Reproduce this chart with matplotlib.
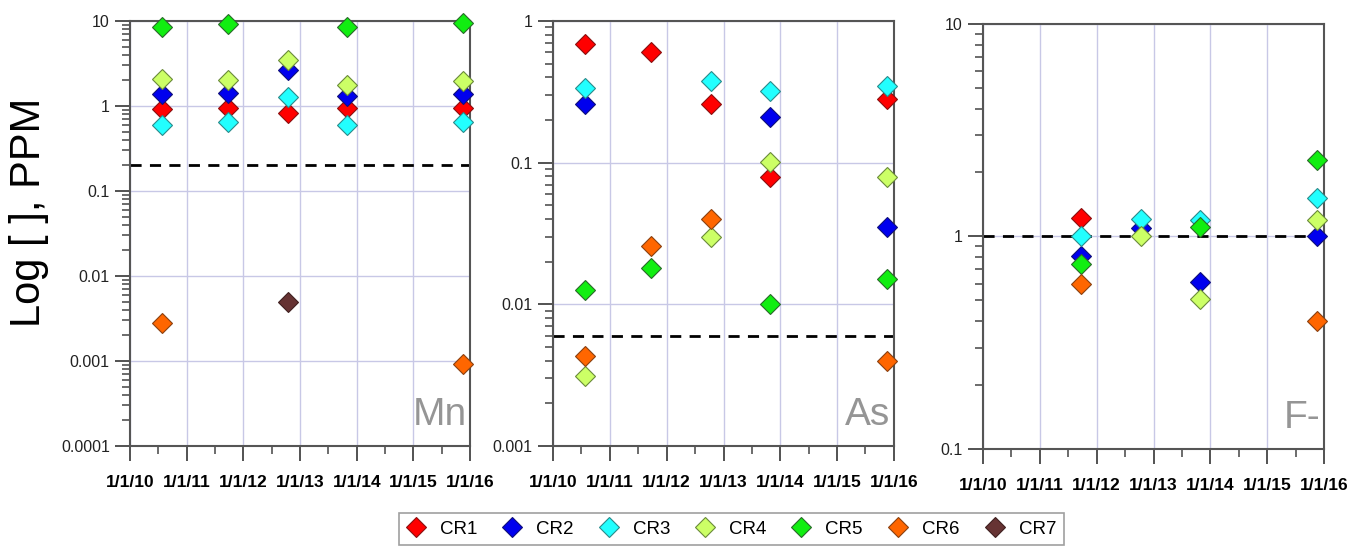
import numpy as np
import matplotlib
matplotlib.use("Agg")
import matplotlib.pyplot as plt
import matplotlib.dates as mdates
from matplotlib.ticker import LogLocator, FixedLocator, NullFormatter
from datetime import datetime

plt.rcParams['font.family'] = ['Liberation Sans', 'DejaVu Sans']

# sampling dates (shared by all panels)
dates = [datetime(2010, 7, 24), datetime(2011, 9, 25), datetime(2012, 10, 15),
         datetime(2013, 10, 29), datetime(2015, 11, 15)]
years = [datetime(y, 1, 1) for y in range(2010, 2017)]
year_labels = ['1/1/10', '1/1/11', '1/1/12', '1/1/13', '1/1/14', '1/1/15', '1/1/16']

series = ['CR1', 'CR2', 'CR3', 'CR4', 'CR5', 'CR6', 'CR7']
colors = ['#ff0000', '#0000ee', '#22ffff', '#ccff66', '#11ee11', '#ff6600', '#663333']
edges = ['#8a1010', '#10107a', '#2a8a8a', '#6a8a3a', '#2a6a2a', '#8a4010', '#402020']

nan = np.nan
# Mn values per series, one per date
mn = {
    'CR1': [0.91, 0.94, 0.83, 0.96, 0.94],
    'CR2': [1.37, 1.41, 2.65, 1.31, 1.37],
    'CR3': [0.60, 0.65, 1.29, 0.60, 0.64],
    'CR4': [2.08, 2.0, 3.5, 1.77, 1.97],
    'CR5': [8.4, 9.1, nan, 8.6, 9.4],
    'CR6': [0.0028, nan, nan, nan, 0.00092],
    'CR7': [nan, nan, 0.005, nan, nan],
}
mn_limit = 0.2

# As
as_ = {
    'CR1': [0.69, 0.60, 0.26, 0.079, 0.28],
    'CR2': [0.26, nan, nan, 0.21, 0.035],
    'CR3': [0.336, nan, 0.38, 0.32, 0.35],
    'CR4': [0.0031, nan, 0.030, 0.101, 0.079],
    'CR5': [0.0126, 0.018, nan, 0.010, 0.0151],
    'CR6': [0.0043, 0.026, 0.040, nan, 0.004],
    'CR7': [nan, nan, nan, nan, nan],
}
as_limit = 0.006

# F-
f_ = {
    'CR1': [nan, 1.22, nan, nan, nan],
    'CR2': [nan, 0.81, 1.10, 0.61, 1.0],
    'CR3': [nan, 1.0, 1.21, 1.2, 1.51],
    'CR4': [nan, nan, 1.0, 0.51, 1.2],
    'CR5': [nan, 0.74, nan, 1.11, 2.3],
    'CR6': [nan, 0.60, nan, nan, 0.40],
    'CR7': [nan, nan, nan, nan, nan],
}
f_limit = 1.0

panels = [
    ('Mn', mn, mn_limit, (1e-4, 10), [1e-4, 1e-3, 1e-2, 0.1, 1, 10],
     ['0.0001', '0.001', '0.01', '0.1', '1', '10'], [0.0953, 0.1861, 0.2493, 0.7756]),
    ('As', as_, as_limit, (1e-3, 1), [1e-3, 1e-2, 0.1, 1],
     ['0.001', '0.01', '0.1', '1'], [0.4054, 0.1861, 0.25, 0.7756]),
    ('F-', f_, f_limit, (0.1, 10), [0.1, 1, 10],
     ['0.1', '1', '10'], [0.7207, 0.1807, 0.25, 0.7756]),
]

fig = plt.figure(figsize=(13.64, 5.48), dpi=100)
handles = []
for name, data, limit, ylim, yt, ytl, pos in panels:
    ax = fig.add_axes(pos)
    ax.set_yscale('log')
    ax.set_ylim(*ylim)
    ax.set_xlim(years[0], years[-1])
    ax.grid(True, which='major', color='#c8c8e6', lw=1.0)
    ax.set_axisbelow(True)
    ax.axhline(limit, color='black', ls=(0, (4, 3)), lw=2, zorder=2)
    hs = []
    for s, c, ec in zip(series, colors, edges):
        h, = ax.plot(dates, data[s], ls='none', marker='D', ms=10, mfc=c,
                     mec=ec, mew=0.8, zorder=3, label=s, clip_on=False)
        hs.append(h)
    handles = hs
    ax.yaxis.set_major_locator(FixedLocator(yt))
    ax.set_yticklabels(ytl)
    ax.yaxis.set_minor_locator(LogLocator(base=10, subs=np.arange(2, 10)))
    ax.yaxis.set_minor_formatter(NullFormatter())
    ax.xaxis.set_major_locator(FixedLocator(mdates.date2num(years)))
    ax.set_xticklabels(year_labels, fontweight='bold', fontsize=12.5)
    ax.xaxis.set_minor_locator(FixedLocator(mdates.date2num(
        [datetime(y, 7, 2) for y in range(2010, 2016)])))
    ax.tick_params(axis='both', which='major', direction='out', length=11,
                   width=1.3, color='#444444')
    ax.tick_params(axis='both', which='minor', direction='out', length=5.5,
                   width=1.1, color='#444444')
    ax.tick_params(axis='y', labelsize=11.5, labelcolor='#222222')
    ax.tick_params(axis='x', pad=10)
    for sp in ax.spines.values():
        sp.set_color('#555555')
        sp.set_linewidth(1.5)
    ax.text(0.99, 0.03, name, transform=ax.transAxes, ha='right', va='bottom',
            fontsize=28, color='#959595')

fig.text(0.021, 0.613, 'Log [ ], PPM', rotation=90, ha='center', va='center',
         fontsize=30)

leg = fig.legend(handles=handles, loc='upper center', bbox_to_anchor=(0.536, 0.064),
                 ncol=7, fontsize=13.5, frameon=True, fancybox=False,
                 edgecolor='#888888', handlelength=1.0, handletextpad=0.78,
                 columnspacing=1.37, borderpad=0.4, borderaxespad=0)
leg.get_frame().set_linewidth(1.2)

fig.savefig('out.png', dpi=100)
